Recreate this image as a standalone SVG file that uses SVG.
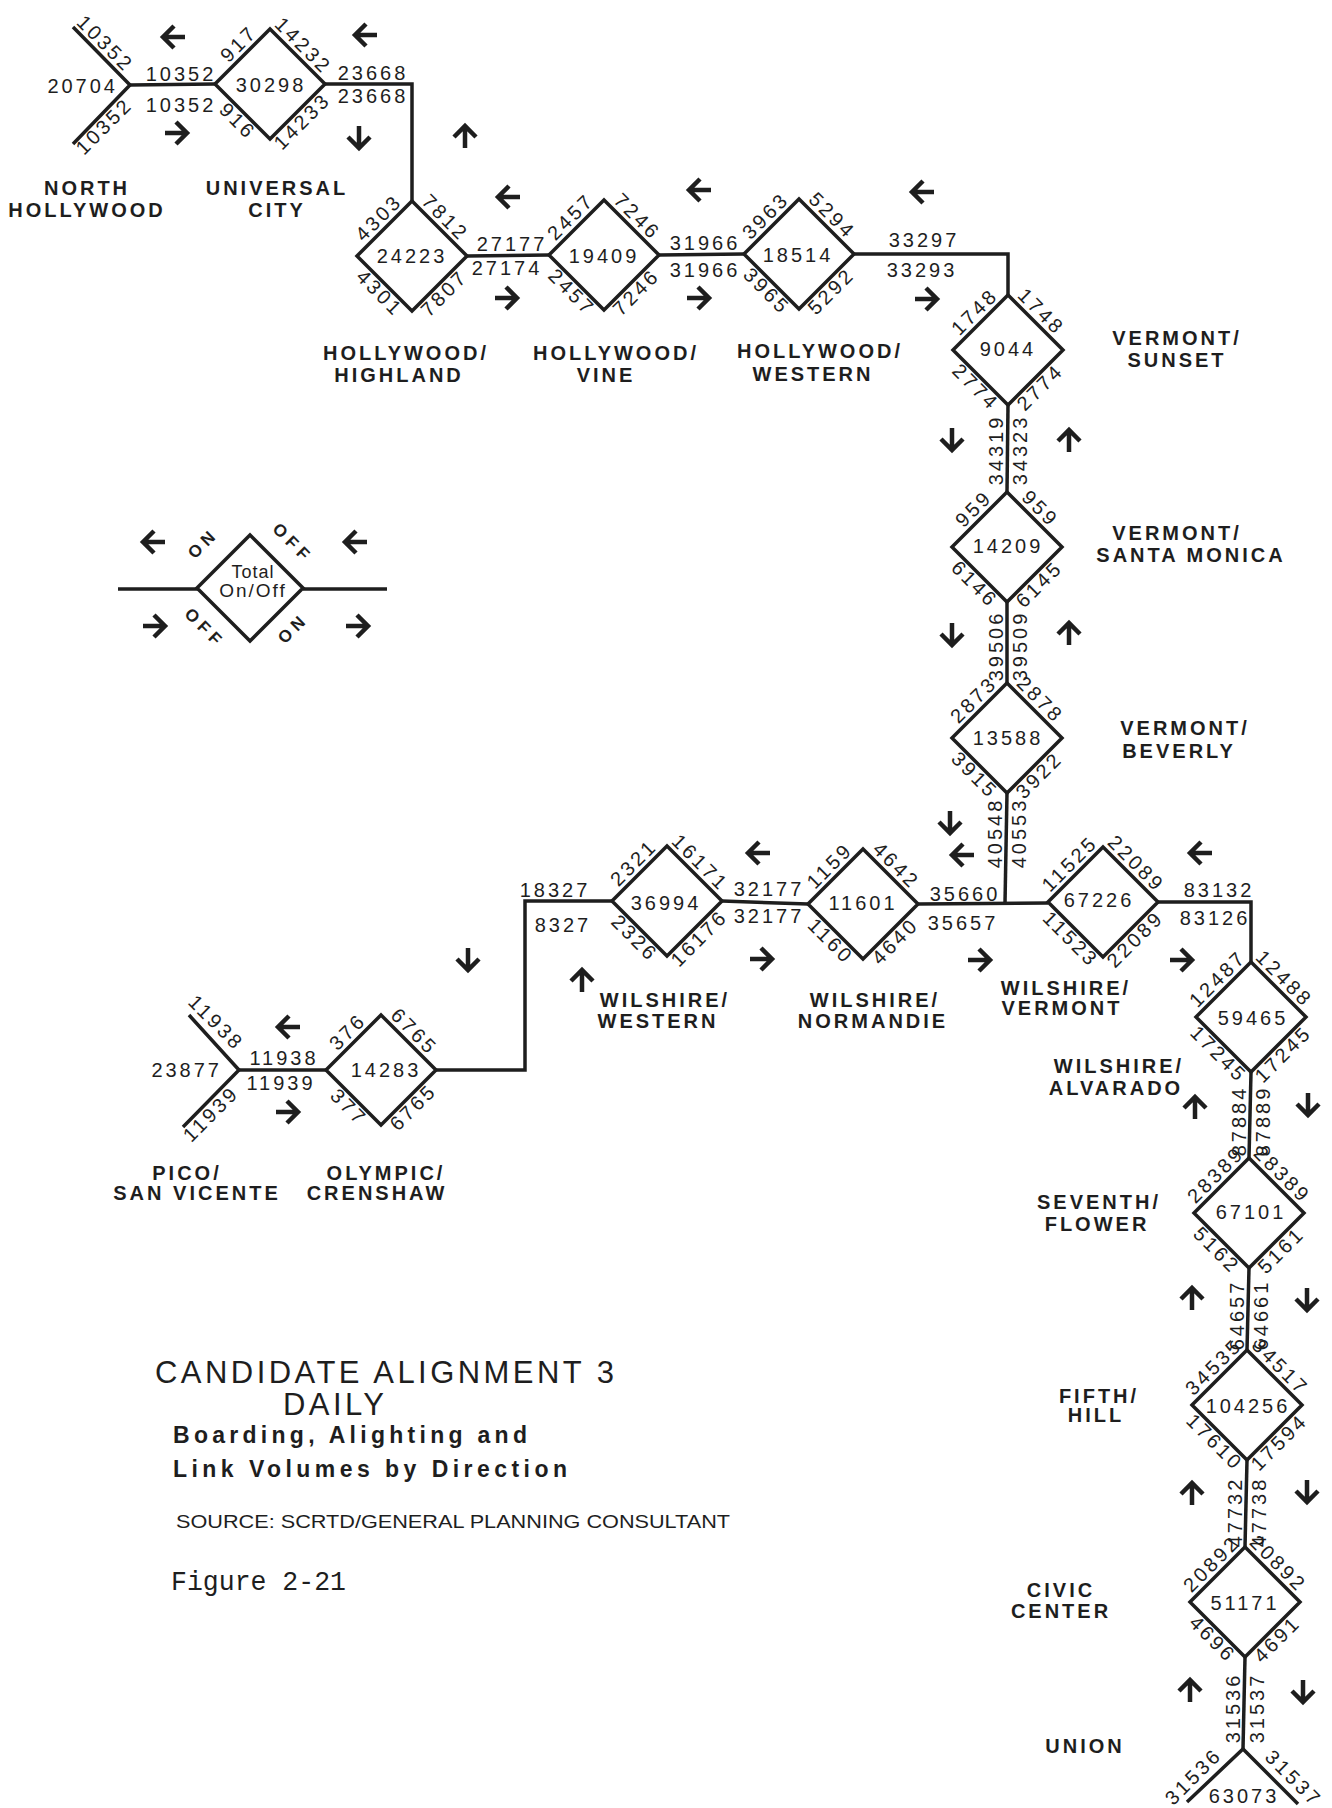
<svg xmlns="http://www.w3.org/2000/svg" xmlns:xlink="http://www.w3.org/1999/xlink" width="1332" height="1808" viewBox="0 0 1332 1808">
<defs>
<style>
.ln{fill:none;stroke:#1e1e1e;stroke-width:3.5;stroke-linejoin:miter;stroke-linecap:butt}
text{fill:#1e1e1e}
.n{font-family:"Liberation Sans",Arial,sans-serif;font-size:20px;letter-spacing:3px}
.c{text-anchor:middle}
.st{font-family:"Liberation Sans",Arial,sans-serif;font-weight:bold;font-size:20px;letter-spacing:3px;text-anchor:middle}
.lg{font-family:"Liberation Sans",Arial,sans-serif;font-weight:bold;font-size:17px;letter-spacing:5px;text-anchor:middle}
.ar{fill:none;stroke:#1e1e1e;stroke-width:4.5}
</style>
<path id="arr" class="ar" d="M-12,0 H10 M-1,-11 L10,0 L-1,11"/>
<path id="dia" class="ln" d="M-55,0 L0,-55 L55,0 L0,55 Z"/>
</defs>
<rect width="1332" height="1808" fill="#ffffff"/>

<g id="connectors">
<path class="ln" d="M130,85 L215,84"/>
<path class="ln" d="M325,84 H412 V201"/>
<path class="ln" d="M467,256 L549,255"/>
<path class="ln" d="M659,255 L744,254"/>
<path class="ln" d="M854,254 H1008 V295"/>
<path class="ln" d="M1008,405 L1007,492"/>
<path class="ln" d="M1007,602 V683"/>
<path class="ln" d="M1007,793 L1005,903"/>
<path class="ln" d="M722,901 L808,904"/>
<path class="ln" d="M918,904 L1048,903"/>
<path class="ln" d="M612,901 H525 V1070 H436"/>
<path class="ln" d="M326,1070 H239"/>
<path class="ln" d="M1158,902 H1251 V962"/>
<path class="ln" d="M1251,1072 L1249,1158"/>
<path class="ln" d="M1249,1268 L1247,1350"/>
<path class="ln" d="M1247,1460 L1245,1547"/>
<path class="ln" d="M1245,1657 L1243,1749"/>
</g>

<g id="link-labels" class="n">
<text class="c" x="181" y="81">10352</text>
<text class="c" x="181" y="112">10352</text>
<text class="c" x="373" y="80">23668</text>
<text class="c" x="373" y="103">23668</text>
<text class="c" x="512" y="251">27177</text>
<text class="c" x="507" y="275">27174</text>
<text class="c" x="705" y="250">31966</text>
<text class="c" x="705" y="277">31966</text>
<text class="c" x="924" y="247">33297</text>
<text class="c" x="922" y="277">33293</text>
<text class="c" x="555" y="897">18327</text>
<text class="c" x="563" y="932">8327</text>
<text class="c" x="769" y="896">32177</text>
<text class="c" x="769" y="923">32177</text>
<text class="c" x="965" y="901">35660</text>
<text class="c" x="963" y="930">35657</text>
<text class="c" x="1219" y="897">83132</text>
<text class="c" x="1215" y="925">83126</text>
<text class="c" x="284" y="1065">11938</text>
<text class="c" x="281" y="1090">11939</text>
<text class="c" transform="translate(1003,450) rotate(-90)">34319</text>
<text class="c" transform="translate(1027,450) rotate(-90)">34323</text>
<text class="c" transform="translate(1003,646) rotate(-90)">39506</text>
<text class="c" transform="translate(1027,646) rotate(-90)">39509</text>
<text class="c" transform="translate(1002,833) rotate(-90)">40548</text>
<text class="c" transform="translate(1026,833) rotate(-90)">40553</text>
<text class="c" transform="translate(1246,1121) rotate(-90)">87884</text>
<text class="c" transform="translate(1270,1121) rotate(-90)">87889</text>
<text class="c" transform="translate(1244,1315) rotate(-90)">64657</text>
<text class="c" transform="translate(1268,1315) rotate(-90)">64661</text>
<text class="c" transform="translate(1242,1512) rotate(-90)">47732</text>
<text class="c" transform="translate(1266,1512) rotate(-90)">47738</text>
<text class="c" transform="translate(1240,1708) rotate(-90)">31536</text>
<text class="c" transform="translate(1264,1708) rotate(-90)">31537</text>
</g>

<g id="arrows">
<use xlink:href="#arr" transform="translate(173,37) rotate(180)"/>
<use xlink:href="#arr" transform="translate(177,133)"/>
<use xlink:href="#arr" transform="translate(365,35) rotate(180)"/>
<use xlink:href="#arr" transform="translate(359,138) rotate(90)"/>
<use xlink:href="#arr" transform="translate(465,136) rotate(-90)"/>
<use xlink:href="#arr" transform="translate(508,197) rotate(180)"/>
<use xlink:href="#arr" transform="translate(507,298)"/>
<use xlink:href="#arr" transform="translate(699,190) rotate(180)"/>
<use xlink:href="#arr" transform="translate(699,298)"/>
<use xlink:href="#arr" transform="translate(922,192) rotate(180)"/>
<use xlink:href="#arr" transform="translate(927,299)"/>
<use xlink:href="#arr" transform="translate(952,440) rotate(90)"/>
<use xlink:href="#arr" transform="translate(1069,440) rotate(-90)"/>
<use xlink:href="#arr" transform="translate(952,635) rotate(90)"/>
<use xlink:href="#arr" transform="translate(1069,633) rotate(-90)"/>
<use xlink:href="#arr" transform="translate(950,823) rotate(90)"/>
<use xlink:href="#arr" transform="translate(962,855) rotate(180)"/>
<use xlink:href="#arr" transform="translate(1200,853) rotate(180)"/>
<use xlink:href="#arr" transform="translate(980,960)"/>
<use xlink:href="#arr" transform="translate(1182,960)"/>
<use xlink:href="#arr" transform="translate(758,853) rotate(180)"/>
<use xlink:href="#arr" transform="translate(762,959)"/>
<use xlink:href="#arr" transform="translate(582,980) rotate(-90)"/>
<use xlink:href="#arr" transform="translate(468,960) rotate(90)"/>
<use xlink:href="#arr" transform="translate(288,1027) rotate(180)"/>
<use xlink:href="#arr" transform="translate(288,1112)"/>
<use xlink:href="#arr" transform="translate(1195,1107) rotate(-90)"/>
<use xlink:href="#arr" transform="translate(1308,1105) rotate(90)"/>
<use xlink:href="#arr" transform="translate(1192,1298) rotate(-90)"/>
<use xlink:href="#arr" transform="translate(1307,1300) rotate(90)"/>
<use xlink:href="#arr" transform="translate(1192,1493) rotate(-90)"/>
<use xlink:href="#arr" transform="translate(1307,1492) rotate(90)"/>
<use xlink:href="#arr" transform="translate(1190,1690) rotate(-90)"/>
<use xlink:href="#arr" transform="translate(1303,1692) rotate(90)"/>
</g>

<g id="north-hollywood">
<path class="ln" d="M73,27 L130,85 L73,144"/>
<text class="n" x="118" y="93" text-anchor="end">20704</text>
<text class="n c" transform="translate(97,52) rotate(45)" y="-5">10352</text>
<text class="n c" transform="translate(97,119) rotate(-45)" y="17">10352</text>
<text class="st" x="87" y="195">NORTH</text>
<text class="st" x="87" y="217">HOLLYWOOD</text>
</g>

<g id="universal-city">
<g transform="translate(270,84)">
<use xlink:href="#dia"/>
<text class="n c" x="1" y="8">30298</text>
<text class="n c" transform="translate(-23,-32) rotate(-45)" y="-5">917</text>
<text class="n c" transform="translate(25,-30) rotate(45)" y="-5">14232</text>
<text class="n c" transform="translate(-25,30) rotate(45)" y="17">916</text>
<text class="n c" transform="translate(25,30) rotate(-45)" y="17">14233</text>
</g>
<text class="st" x="277" y="195">UNIVERSAL</text>
<text class="st" x="277" y="217">CITY</text>
</g>

<g id="hollywood-highland">
<g transform="translate(412,256)">
<use xlink:href="#dia"/>
<text class="n c" x="0" y="7">24223</text>
<text class="n c" transform="translate(-25,-30) rotate(-45)" y="-5">4303</text>
<text class="n c" transform="translate(25,-30) rotate(45)" y="-5">7812</text>
<text class="n c" transform="translate(-25,30) rotate(45)" y="17">4301</text>
<text class="n c" transform="translate(25,30) rotate(-45)" y="17">7807</text>
</g>
<text class="st" x="406" y="360">HOLLYWOOD/</text>
<text class="st" x="399" y="382">HIGHLAND</text>
</g>

<g id="hollywood-vine">
<g transform="translate(604,255)">
<use xlink:href="#dia"/>
<text class="n c" x="0" y="8">19409</text>
<text class="n c" transform="translate(-25,-30) rotate(-45)" y="-5">2457</text>
<text class="n c" transform="translate(25,-30) rotate(45)" y="-5">7246</text>
<text class="n c" transform="translate(-25,30) rotate(45)" y="17">2457</text>
<text class="n c" transform="translate(25,30) rotate(-45)" y="17">7246</text>
</g>
<text class="st" x="616" y="360">HOLLYWOOD/</text>
<text class="st" x="606" y="382">VINE</text>
</g>

<g id="hollywood-western">
<g transform="translate(799,254)">
<use xlink:href="#dia"/>
<text class="n c" x="-1" y="8">18514</text>
<text class="n c" transform="translate(-25,-30) rotate(-45)" y="-5">3963</text>
<text class="n c" transform="translate(25,-30) rotate(45)" y="-5">5294</text>
<text class="n c" transform="translate(-25,30) rotate(45)" y="17">3965</text>
<text class="n c" transform="translate(25,30) rotate(-45)" y="17">5292</text>
</g>
<text class="st" x="820" y="358">HOLLYWOOD/</text>
<text class="st" x="813" y="381">WESTERN</text>
</g>

<g id="vermont-sunset">
<g transform="translate(1008,350)">
<use xlink:href="#dia"/>
<text class="n c" x="0" y="6">9044</text>
<text class="n c" transform="translate(-25,-30) rotate(-45)" y="-5">1748</text>
<text class="n c" transform="translate(25,-30) rotate(45)" y="-5">1748</text>
<text class="n c" transform="translate(-25,30) rotate(45)" y="17">2774</text>
<text class="n c" transform="translate(25,30) rotate(-45)" y="17">2774</text>
</g>
<text class="st" x="1177" y="345">VERMONT/</text>
<text class="st" x="1177" y="367">SUNSET</text>
</g>

<g id="vermont-santa-monica">
<g transform="translate(1007,547)">
<use xlink:href="#dia"/>
<text class="n c" x="1" y="6">14209</text>
<text class="n c" transform="translate(-25,-30) rotate(-45)" y="-5">959</text>
<text class="n c" transform="translate(25,-30) rotate(45)" y="-5">959</text>
<text class="n c" transform="translate(-25,30) rotate(45)" y="17">6146</text>
<text class="n c" transform="translate(25,30) rotate(-45)" y="17">6145</text>
</g>
<text class="st" x="1177" y="540">VERMONT/</text>
<text class="st" x="1191" y="562">SANTA MONICA</text>
</g>

<g id="vermont-beverly">
<g transform="translate(1007,738)">
<use xlink:href="#dia"/>
<text class="n c" x="1" y="7">13588</text>
<text class="n c" transform="translate(-25,-30) rotate(-45)" y="-5">2873</text>
<text class="n c" transform="translate(25,-30) rotate(45)" y="-5">2878</text>
<text class="n c" transform="translate(-25,30) rotate(45)" y="17">3915</text>
<text class="n c" transform="translate(25,30) rotate(-45)" y="17">3922</text>
</g>
<text class="st" x="1185" y="735">VERMONT/</text>
<text class="st" x="1179" y="758">BEVERLY</text>
</g>

<g id="wilshire-western">
<g transform="translate(667,901)">
<use xlink:href="#dia"/>
<text class="n c" x="-1" y="9">36994</text>
<text class="n c" transform="translate(-25,-30) rotate(-45)" y="-5">2321</text>
<text class="n c" transform="translate(25,-30) rotate(45)" y="-5">16171</text>
<text class="n c" transform="translate(-25,30) rotate(45)" y="17">2326</text>
<text class="n c" transform="translate(25,30) rotate(-45)" y="17">16176</text>
</g>
<text class="st" x="665" y="1007">WILSHIRE/</text>
<text class="st" x="658" y="1028">WESTERN</text>
</g>

<g id="wilshire-normandie">
<g transform="translate(863,904)">
<use xlink:href="#dia"/>
<text class="n c" x="0" y="6">11601</text>
<text class="n c" transform="translate(-25,-30) rotate(-45)" y="-5">1159</text>
<text class="n c" transform="translate(25,-30) rotate(45)" y="-5">4642</text>
<text class="n c" transform="translate(-25,30) rotate(45)" y="17">1160</text>
<text class="n c" transform="translate(25,30) rotate(-45)" y="17">4640</text>
</g>
<text class="st" x="875" y="1007">WILSHIRE/</text>
<text class="st" x="873" y="1028">NORMANDIE</text>
</g>

<g id="wilshire-vermont">
<g transform="translate(1103,902)">
<use xlink:href="#dia"/>
<text class="n c" x="-4" y="5">67226</text>
<text class="n c" transform="translate(-25,-30) rotate(-45)" y="-5">11525</text>
<text class="n c" transform="translate(25,-30) rotate(45)" y="-5">22089</text>
<text class="n c" transform="translate(-25,30) rotate(45)" y="17">11523</text>
<text class="n c" transform="translate(25,30) rotate(-45)" y="17">22089</text>
</g>
<text class="st" x="1066" y="995">WILSHIRE/</text>
<text class="st" x="1062" y="1015">VERMONT</text>
</g>

<g id="wilshire-alvarado">
<g transform="translate(1251,1017)">
<use xlink:href="#dia"/>
<text class="n c" x="2" y="8">59465</text>
<text class="n c" transform="translate(-25,-30) rotate(-45)" y="-5">12487</text>
<text class="n c" transform="translate(25,-30) rotate(45)" y="-5">12488</text>
<text class="n c" transform="translate(-25,30) rotate(45)" y="17">17245</text>
<text class="n c" transform="translate(25,30) rotate(-45)" y="17">17245</text>
</g>
<text class="st" x="1119" y="1073">WILSHIRE/</text>
<text class="st" x="1116" y="1095">ALVARADO</text>
</g>

<g id="seventh-flower">
<g transform="translate(1249,1213)">
<use xlink:href="#dia"/>
<text class="n c" x="2" y="6">67101</text>
<text class="n c" transform="translate(-25,-30) rotate(-45)" y="-5">28389</text>
<text class="n c" transform="translate(25,-30) rotate(45)" y="-5">28389</text>
<text class="n c" transform="translate(-25,30) rotate(45)" y="17">5162</text>
<text class="n c" transform="translate(25,30) rotate(-45)" y="17">5161</text>
</g>
<text class="st" x="1099" y="1209">SEVENTH/</text>
<text class="st" x="1097" y="1231">FLOWER</text>
</g>

<g id="fifth-hill">
<g transform="translate(1247,1405)">
<use xlink:href="#dia"/>
<text class="n c" x="1" y="8">104256</text>
<text class="n c" transform="translate(-25,-30) rotate(-45)" y="-5">34535</text>
<text class="n c" transform="translate(25,-30) rotate(45)" y="-5">34517</text>
<text class="n c" transform="translate(-25,30) rotate(45)" y="17">17610</text>
<text class="n c" transform="translate(25,30) rotate(-45)" y="17">17594</text>
</g>
<text class="st" x="1099" y="1403">FIFTH/</text>
<text class="st" x="1096" y="1422">HILL</text>
</g>

<g id="civic-center">
<g transform="translate(1245,1602)">
<use xlink:href="#dia"/>
<text class="n c" x="0" y="8">51171</text>
<text class="n c" transform="translate(-25,-30) rotate(-45)" y="-5">20892</text>
<text class="n c" transform="translate(25,-30) rotate(45)" y="-5">20892</text>
<text class="n c" transform="translate(-25,30) rotate(45)" y="17">4696</text>
<text class="n c" transform="translate(25,30) rotate(-45)" y="17">4691</text>
</g>
<text class="st" x="1061" y="1597">CIVIC</text>
<text class="st" x="1061" y="1618">CENTER</text>
</g>

<g id="union">
<path class="ln" d="M1187,1802 L1243,1749 L1298,1804"/>
<text class="n c" x="1244" y="1803">63073</text>
<text class="n c" transform="translate(1204,1787) rotate(-45)" y="-8">31536</text>
<text class="n c" transform="translate(1283,1789) rotate(45)" y="-8">31537</text>
<text class="st" x="1085" y="1753">UNION</text>
</g>

<g id="olympic-crenshaw">
<g transform="translate(381,1070)">
<use xlink:href="#dia"/>
<text class="n c" x="5" y="7">14283</text>
<text class="n c" transform="translate(-25,-30) rotate(-45)" y="-5">376</text>
<text class="n c" transform="translate(25,-30) rotate(45)" y="-5">6765</text>
<text class="n c" transform="translate(-25,30) rotate(45)" y="17">377</text>
<text class="n c" transform="translate(25,30) rotate(-45)" y="17">6765</text>
</g>
<text class="st" x="386" y="1180">OLYMPIC/</text>
<text class="st" x="377" y="1200">CRENSHAW</text>
</g>

<g id="pico-san-vicente">
<path class="ln" d="M189,1015 L239,1070 L183,1127"/>
<text class="n" x="222" y="1077" text-anchor="end">23877</text>
<text class="n c" transform="translate(205,1034) rotate(45)" y="-9">11938</text>
<text class="n c" transform="translate(203,1106) rotate(-45)" y="18">11939</text>
<text class="st" x="187" y="1180">PICO/</text>
<text class="st" x="197" y="1200">SAN VICENTE</text>
</g>

<g id="legend">
<path class="ln" d="M118,589 H198 M303,589 H387"/>
<g transform="translate(250,588)">
<path class="ln" d="M-53,0 L0,-53 L53,0 L0,53 Z"/>
<text font-family="Liberation Sans, Arial, sans-serif" font-size="18" letter-spacing="1" text-anchor="middle" x="3" y="-10">Total</text>
<text font-family="Liberation Sans, Arial, sans-serif" font-size="19" letter-spacing="2" text-anchor="middle" x="3" y="9">On/Off</text>
<text class="lg" transform="translate(-47,-45) rotate(-45)" y="6">ON</text>
<text class="lg" transform="translate(43,-45) rotate(45)" y="6">OFF</text>
<text class="lg" transform="translate(-45,40) rotate(45)" y="6">OFF</text>
<text class="lg" transform="translate(43,40) rotate(-45)" y="6">ON</text>
</g>
<use xlink:href="#arr" transform="translate(153,542) rotate(180)"/>
<use xlink:href="#arr" transform="translate(355,542) rotate(180)"/>
<use xlink:href="#arr" transform="translate(155,626)"/>
<use xlink:href="#arr" transform="translate(358,626)"/>
</g>

<g id="title" font-family="Liberation Sans, Arial, sans-serif">
<text x="155" y="1383" font-size="31" textLength="459">CANDIDATE ALIGNMENT 3</text>
<text x="283" y="1415" font-size="31" textLength="101">DAILY</text>
<text x="173" y="1443" font-size="23" font-weight="bold" textLength="354">Boarding, Alighting and</text>
<text x="173" y="1477" font-size="23" font-weight="bold" textLength="394">Link Volumes by Direction</text>
<text x="176" y="1528" font-size="18" textLength="554" lengthAdjust="spacingAndGlyphs">SOURCE: SCRTD/GENERAL PLANNING CONSULTANT</text>
<text x="171" y="1590" font-size="27" font-family="Liberation Mono, Courier New, monospace" textLength="175" lengthAdjust="spacingAndGlyphs">Figure 2-21</text>
</g>
</svg>
